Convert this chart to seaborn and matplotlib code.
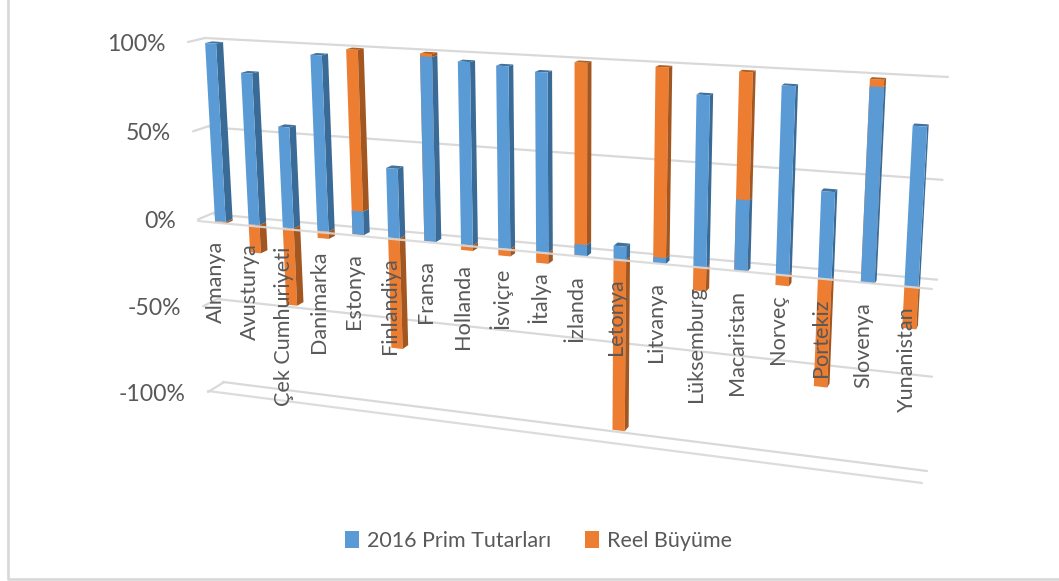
import numpy as np
import matplotlib
matplotlib.use("Agg")
import matplotlib.pyplot as plt
from matplotlib.patches import Patch, Rectangle
from matplotlib.transforms import Transform
import seaborn as sns

categories = ["Almanya", "Avusturya", "Çek Cumhuriyeti", "Danimarka", "Estonya", "Finlandiya",
              "Fransa", "Hollanda", "İsviçre", "İtalya", "İzlanda", "Letonya", "Litvanya",
              "Lüksemburg", "Macaristan", "Norveç", "Portekiz", "Slovenya", "Yunanistan"]
prim = [99, 84, 56, 96, 13, 38, 98.5, 97, 96, 94, 6, 7, 3, 87.5, 36.5, 94.5, 44, 96.5, 79]
reel = [-1, -16, -44, -4, 87, -62, 1.5, -3, -4, -6, 94, -93, 97, -12.5, 63.5, -5.5, -56, 3.5, -21]
value_ticks = [100, 50, 0, -50, -100]
tick_labels = ["100%", "50%", "0%", "-50%", "-100%"]
series_names = ["2016 Prim Tutarları", "Reel Büyüme"]

BLUE, ORANGE = "#5B9BD5", "#ED7D31"
BLUE_D, ORANGE_D = "#3A6A96", "#A3561F"
BLUE_T, ORANGE_T = "#41719C", "#B5601F"
GRID = "#D9D9D9"
TEXT = "#595959"

sns.set_theme(style="white")
plt.rcParams["font.family"] = ["Lato", "DejaVu Sans"]


def homography(src, dst):
    rows, rhs = [], []
    for (a, b), (u, v) in zip(src, dst):
        rows.append([a, b, 1, 0, 0, 0, -a * u, -b * u]); rhs.append(u)
        rows.append([0, 0, 0, a, b, 1, -a * v, -b * v]); rhs.append(v)
    return np.append(np.linalg.solve(np.array(rows, float), np.array(rhs, float)), 1).reshape(3, 3)


class Perspective(Transform):
    input_dims = output_dims = 2
    is_affine = False

    def __init__(self, matrix):
        super().__init__()
        self.m = matrix

    def transform_non_affine(self, xy):
        xy = np.asarray(xy, float)
        h = np.c_[xy, np.ones(len(xy))] @ self.m.T
        return h[:, :2] / h[:, 2:]


n = len(categories)
corners = [(0, 100), (0, -100), (n - 1, 100), (n - 1, -100)]
front = Perspective(homography(corners, [(210.5, 41.5), (229.7, 392), (922.2, 82), (901.2, 480)]))
wall = [(0, 100), (0, -100), (1, 100), (1, -100)]
back = Perspective(homography(wall, [(205, 38), (223, 382), (948, 77), (927, 471)]))
side = Perspective(homography(wall, [(188, 42), (208, 392), (205, 38), (224.2, 382)]))

fig, ax = plt.subplots(figsize=(10.59, 5.81), dpi=100)
fig.subplots_adjust(0, 0, 1, 1)

# orange stack first, blue over it: positive orange sits above blue, negative below zero
stack_top = [p + r if r > 0 else r for p, r in zip(prim, reel)]
width = 0.32
sns.barplot(x=categories, y=stack_top, color=ORANGE, saturation=1, width=width, ax=ax, zorder=3)
sns.barplot(x=categories, y=prim, color=BLUE, saturation=1, width=width, ax=ax, zorder=3.2)
bars = [b for b in ax.patches if isinstance(b, Rectangle)]
ax.set_xlim(0, 1059)
ax.set_ylim(581, 0)
ax.axis("off")
to_px = front + ax.transData
for b in bars:
    b.set_transform(to_px)
    b.set_linewidth(0)

VP = np.array([1141.0, -173.0])
K = 0.0075


def deepen(pts):
    return pts + K * (VP - pts)


def face(i, v0, v1, colour_side, colour_top, top):
    a = front.transform(np.array([[i + width / 2, v0], [i + width / 2, v1]]))
    ax.fill(*np.r_[a, deepen(a)[::-1]].T, color=colour_side, lw=0, zorder=3.1)
    if top:
        t = front.transform(np.array([[i - width / 2, v1], [i + width / 2, v1]]))
        ax.fill(*np.r_[t, deepen(t)[::-1]].T, color=colour_top, lw=0, zorder=3.1)


for i, (p, r) in enumerate(zip(prim, reel)):
    if r > 0:
        face(i, 0, p, BLUE_D, BLUE_T, False)
        face(i, p, p + r, ORANGE_D, ORANGE_T, True)
    else:
        face(i, 0, p, BLUE_D, BLUE_T, True)
        face(i, r, 0, ORANGE_D, ORANGE_T, False)

# gridlines on the back wall and side wall
for v, lab in zip(value_ticks, tick_labels):
    pts = back.transform(np.array([[0, v], [1, v]]))
    ax.plot(*pts.T, color=GRID, lw=1.6, zorder=1)
    pts = side.transform(np.array([[0, v], [1, v]]))
    ax.plot(*pts.T, color=GRID, lw=1.6, zorder=1)
    ax.text(pts[0, 0] - 22, pts[0, 1] + 2.5, lab, ha="right", va="center", fontsize=16.6, color=TEXT, zorder=6)

# front edges of the floor and of the zero plane
for v, start, end, z in [(0, (198, 221), (932, 289), 4), (-100, (208, 391), (922, 483), 1)]:
    ax.plot([start[0], end[0]], [start[1], end[1]], color=GRID, lw=1.6, zorder=z, alpha=0.9)

# category labels
for i, c in enumerate(categories):
    x, y = front.transform(np.array([[i, 0]]))[0]
    ax.text(x - 4, y + 19, c, rotation=90, ha="center", va="top", fontsize=15.6, color=TEXT, zorder=7)

handles = [Patch(color=BLUE, lw=0), Patch(color=ORANGE, lw=0)]
ax.legend(handles, series_names, loc="center", bbox_to_anchor=(538.5 / 1059, 1 - 541 / 581), ncol=2, frameon=False,
          fontsize=15.5, labelcolor=TEXT, handlelength=0.65, handleheight=0.85, handletextpad=0.4, columnspacing=1.55)

# chart frame
ax.plot([8, 8, 1059], [0, 579, 579], color=GRID, lw=2, zorder=0)

fig.savefig("out.png", dpi=100, facecolor="white")
